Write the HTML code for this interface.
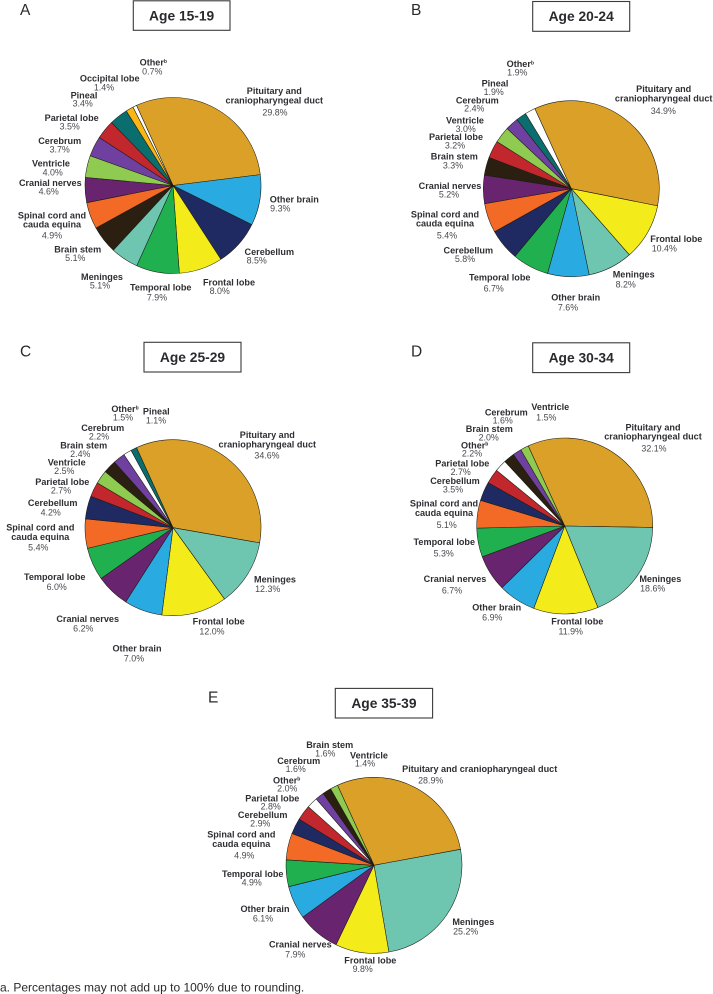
<!DOCTYPE html>
<html lang="en">
<head>
<meta charset="utf-8">
<title>Brain tumor histology by age group</title>
<style>
html,body{margin:0;padding:0;background:#fff;width:713px;height:994px;overflow:hidden}
svg{display:block;font-family:"Liberation Sans",Arial,sans-serif}
.nm{font-weight:700;font-size:9.1px;fill:#2e2e33;text-anchor:middle}
.vl{font-size:8.9px;fill:#4a4a4e;text-anchor:middle}
.slice{stroke:#1c1c14;stroke-width:.55;stroke-linejoin:round}
.tbox{fill:#fff;stroke:#3a3a3a;stroke-width:1.1}
.ttl{font-weight:700;font-size:13.8px;fill:#2a2a2e;text-anchor:middle}
.ltr{font-size:15.5px;fill:#2a2a2e}
.foot{font-size:12px;fill:#2a2a2e}
</style>
</head>
<body>
<svg id="fig" width="713" height="994" viewBox="0 0 713 994" xmlns="http://www.w3.org/2000/svg">
<text class="foot" x="0" y="991.3">a. Percentages may not add up to 100% due to rounding.</text>
</svg>
<script>
var colors = {
  "Pituitary": "#DBA027", "Other brain": "#29ABE2", "Cerebellum": "#1F2A63", "Frontal lobe": "#F4EB1A",
  "Temporal lobe": "#21B04F", "Meninges": "#6EC6B0", "Brain stem": "#2A1F10", "Spinal": "#F26A25",
  "Cranial nerves": "#69246F", "Ventricle": "#8FCB50", "Cerebrum": "#7040A0", "Parietal lobe": "#C1272D",
  "Pineal": "#0B6E6E", "Occipital lobe": "#FBB515", "Other": "#FFFFFF"
};

var titlesAll = ["Age 15-19", "Age 20-24", "Age 25-29", "Age 30-34", "Age 35-39"];
var panelLetters = ["A", "B", "C", "D", "E"];

var categoriesA = ["Pituitary","Other brain","Cerebellum","Frontal lobe","Temporal lobe","Meninges","Brain stem","Spinal","Cranial nerves","Ventricle","Cerebrum","Parietal lobe","Pineal","Occipital lobe","Other"];
var valuesA = [29.8,9.3,8.5,8.0,7.9,5.1,5.1,4.9,4.6,4.0,3.7,3.5,3.4,1.4,0.7];

var categoriesB = ["Pituitary","Frontal lobe","Meninges","Other brain","Temporal lobe","Cerebellum","Spinal","Cranial nerves","Brain stem","Parietal lobe","Ventricle","Cerebrum","Pineal","Other"];
var valuesB = [34.9,10.4,8.2,7.6,6.7,5.8,5.4,5.2,3.3,3.2,3.0,2.4,1.9,1.9];

var categoriesC = ["Pituitary","Meninges","Frontal lobe","Other brain","Cranial nerves","Temporal lobe","Spinal","Cerebellum","Parietal lobe","Ventricle","Brain stem","Cerebrum","Other","Pineal"];
var valuesC = [34.6,12.3,12.0,7.0,6.2,6.0,5.4,4.2,2.7,2.5,2.4,2.2,1.5,1.1];

var categoriesD = ["Pituitary","Meninges","Frontal lobe","Other brain","Cranial nerves","Temporal lobe","Spinal","Cerebellum","Parietal lobe","Other","Brain stem","Cerebrum","Ventricle"];
var valuesD = [32.1,18.6,11.9,6.9,6.7,5.3,5.1,3.5,2.7,2.2,2.0,1.6,1.5];

var categoriesE = ["Pituitary","Meninges","Frontal lobe","Cranial nerves","Other brain","Temporal lobe","Spinal","Cerebellum","Parietal lobe","Other","Cerebrum","Brain stem","Ventricle"];
var valuesE = [28.9,25.2,9.8,7.9,6.1,4.9,4.9,2.9,2.8,2.0,1.6,1.6,1.4];

/* Label placement only (layout, not data), in 1/3 px units relative to each panel origin:
   [name x, name baseline, value x, value baseline] */
var layouts = [
 {ox:0,oy:0,cx:173,cy:185.5,box:[133.3,0.8,96.7,29.5],ltr:[20,15],
  place:{"Other":[460,197,457,224],"Occipital lobe":[329,245,312,271],"Pineal":[252,295,248,320],"Parietal lobe":[215,363,209,389],"Cerebrum":[179,432,179,458],"Ventricle":[153,500,158,526],"Cranial nerves":[151,558,146,584],"Spinal":[156,655,156,716],"Brain stem":[233,757,226,783],"Meninges":[306,840,300,866],"Temporal lobe":[482,872,471,902],"Frontal lobe":[687,857,659,882],"Cerebellum":[808,765,770,791],"Other brain":[883,608,841,634],"Pituitary":[823,282,825,347]}},
 {ox:357,oy:0,cx:571.3,cy:188.7,box:[532.7,1.5,97,29.8],ltr:[411,15],
  place:{"Other":[490,201,481,227],"Pineal":[414,260,410,285],"Cerebrum":[361,310,352,335],"Ventricle":[324,370,326,396],"Parietal lobe":[297,420,294,445],"Brain stem":[292,479,288,505],"Cranial nerves":[279,567,276,592],"Spinal":[264,652,270,716],"Cerebellum":[334,761,324,786],"Temporal lobe":[428,841,410,875],"Other brain":[656,901,633,931],"Meninges":[830,833,806,863],"Frontal lobe":[958,726,922,755],"Pituitary":[920,276,919,342]}},
 {ox:0,oy:330,cx:173,cy:527.7,box:[144,342.3,97,29.7],ltr:[20,356.7],
  place:{"Other":[375,246,369,272],"Pineal":[469,254,468,280],"Cerebrum":[308,303,297,328],"Brain stem":[251,356,241,381],"Ventricle":[200,407,193,432],"Parietal lobe":[187,465,183,490],"Cerebellum":[158,528,152,557],"Spinal":[121,602,115,662],"Temporal lobe":[164,750,170,780],"Cranial nerves":[263,876,250,905],"Other brain":[411,964,402,994],"Frontal lobe":[656,884,636,914],"Meninges":[825,758,803,786],"Pituitary":[802,324,801,386]}},
 {ox:357,oy:330,cx:564.7,cy:526,box:[532.7,342.8,97,29.8],ltr:[411,356.7],
  place:{"Ventricle":[580,240,568,271],"Cerebrum":[448,256,437,281],"Brain stem":[397,306,395,331],"Other":[353,355,345,380],"Parietal lobe":[316,410,311,435],"Cerebellum":[294,462,288,488],"Spinal":[261,530,269,594],"Temporal lobe":[262,645,260,679],"Cranial nerves":[294,756,285,790],"Other brain":[419,842,406,871],"Frontal lobe":[661,884,641,914],"Meninges":[910,756,887,785],"Pituitary":[888,301,891,365]}},
 {ox:150,oy:680,cx:374,cy:865.3,box:[335.3,688.4,97.3,29.6],ltr:[208,702.7],
  place:{"Brain stem":[539,204,526,229],"Ventricle":[657,235,645,260],"Cerebrum":[446,252,437,276],"Other":[410,310,412,335],"Parietal lobe":[367,364,362,389],"Cerebellum":[338,414,331,439],"Spinal":[274,473,283,535],"Temporal lobe":[308,591,305,616],"Other brain":[345,696,339,725],"Cranial nerves":[451,803,436,832],"Frontal lobe":[661,851,638,876],"Meninges":[970,735,947,764],"Pituitary":[989,276,842,310]}}
];

var NS = "http://www.w3.org/2000/svg";
var svg = document.getElementById("fig");
var RADIUS = 88;
var START_DEG = -24.5;

function slug(s){ return s.toLowerCase().replace(/[^a-z0-9]+/g, "-"); }
function angleScale(cum, total){ return (START_DEG + cum / total * 360) * Math.PI / 180; }
function px(p, a){ return p.cx + RADIUS * Math.sin(a); }
function py(p, a){ return p.cy - RADIUS * Math.cos(a); }
function mk(tag, cls){
  var e = document.createElementNS(NS, tag);
  if (cls) e.setAttribute("class", cls);
  return e;
}
function nameLines(cat, i){
  if (cat === "Pituitary") return i === 4 ? ["Pituitary and craniopharyngeal duct"] : ["Pituitary and", "craniopharyngeal duct"];
  if (cat === "Spinal") return ["Spinal cord and", "cauda equina"];
  return [cat];
}

function drawPanel(i, cats, vals){
  var p = layouts[i];
  var g = mk("g");
  
  
  svg.appendChild(g);

  var letter = mk("text", "ltr");
  
  
  letter.setAttribute("x", p.ltr[0]);
  letter.setAttribute("y", p.ltr[1]);
  letter.textContent = panelLetters[i];
  g.appendChild(letter);

  var box = mk("rect", "tbox");
  
  
  box.setAttribute("x", p.box[0]);
  box.setAttribute("y", p.box[1]);
  box.setAttribute("width", p.box[2]);
  box.setAttribute("height", p.box[3]);
  g.appendChild(box);

  var title = mk("text", "ttl");
  
  
  title.setAttribute("x", p.box[0] + p.box[2] / 2);
  title.setAttribute("y", p.box[1] + p.box[3] / 2 + 4.8);
  title.textContent = titlesAll[i];
  g.appendChild(title);

  var total = vals.reduce(function(a, b){ return a + b; }, 0);
  var cum = 0;
  cats.forEach(function(cat, k){
    var a0 = angleScale(cum, total);
    cum += vals[k];
    var a1 = angleScale(cum, total);
    var large = (a1 - a0) > Math.PI ? 1 : 0;
    var path = mk("path", "slice");
    
    
    path.setAttribute("fill", colors[cat]);
    path.setAttribute("d", "M" + p.cx + " " + p.cy + "L" + px(p, a0).toFixed(2) + " " + py(p, a0).toFixed(2) +
      "A" + RADIUS + " " + RADIUS + " 0 " + large + " 1 " + px(p, a1).toFixed(2) + " " + py(p, a1).toFixed(2) + "Z");
    g.appendChild(path);

    var pos = p.place[cat];
    var lines = nameLines(cat, i);
    lines.forEach(function(line, n){
      var t = mk("text", "nm");
      
      
      t.setAttribute("x", (p.ox + pos[0] / 3).toFixed(1));
      t.setAttribute("y", (p.oy + pos[1] / 3 + n * 9.33).toFixed(1));
      t.textContent = line;
      if (cat === "Other") {
        var sup = mk("tspan");
        sup.setAttribute("dy", "-2.6");
        sup.setAttribute("font-size", "5");
        sup.textContent = "b";
        t.appendChild(sup);
      }
      g.appendChild(t);
    });

    var v = mk("text", "vl");
    
    
    v.setAttribute("x", (p.ox + pos[2] / 3).toFixed(1));
    v.setAttribute("y", (p.oy + pos[3] / 3).toFixed(1));
    v.textContent = vals[k].toFixed(1) + "%";
    g.appendChild(v);
  });
}

drawPanel(0, categoriesA, valuesA);
drawPanel(1, categoriesB, valuesB);
drawPanel(2, categoriesC, valuesC);
drawPanel(3, categoriesD, valuesD);
drawPanel(4, categoriesE, valuesE);
</script>
</body>
</html>
